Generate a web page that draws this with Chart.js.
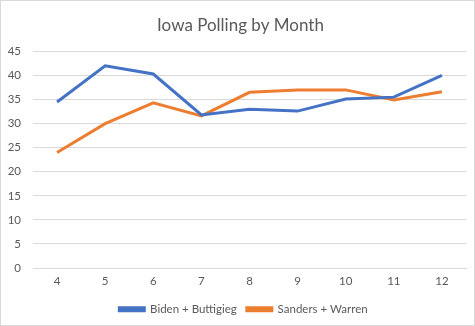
<!DOCTYPE html>
<html lang="en">
<head>
    <meta charset="UTF-8">
    <title>Iowa Polling by Month</title>
    <script src="https://cdn.jsdelivr.net/npm/chart.js"></script>
    <style>
        body {
            margin: 0;
            padding: 0;
            background-color: #ffffff;
        }

        /* Marco gris claro alrededor del gráfico */
        .marco {
            position: absolute;
            left: 0;
            top: 0;
            width: 473px;
            height: 324px;
            border: 1px solid #d9d9d9;
        }

        canvas {
            display: block;
        }
    </style>
</head>
<body>
    <div class="marco">
        <canvas id="pollChart" width="473" height="324"></canvas>
    </div>

    <script>
        // Meses (eje x)
        const meses = ['4', '5', '6', '7', '8', '9', '10', '11', '12'];

        // Porcentaje combinado por mes
        const bidenButtigieg = [34.5, 42, 40.3, 31.8, 33, 32.6, 35.1, 35.5, 40];
        const sandersWarren = [24, 30, 34.3, 31.6, 36.5, 37, 37, 34.9, 36.6];

        const gris = '#595959';
        const fuente = 'Lato, "Open Sans", sans-serif';

        // Centra título y leyenda un poco más a la derecha (sobre el área de datos)
        const centrarCajas = {
            id: 'centrarCajas',
            afterLayout(chart) {
                if (chart.legend) chart.legend.left += 20;
                if (chart.titleBlock) chart.titleBlock.left += 14;
            }
        };

        const ctx = document.getElementById('pollChart').getContext('2d');
        new Chart(ctx, {
            type: 'line',
            data: {
                labels: meses,
                datasets: [{
                    label: 'Biden + Buttigieg',
                    data: bidenButtigieg,
                    borderColor: '#4472C4',
                    backgroundColor: '#4472C4',
                    borderWidth: 3,
                    pointRadius: 0,
                    tension: 0,
                    fill: false
                }, {
                    label: 'Sanders + Warren',
                    data: sandersWarren,
                    borderColor: '#ED7D31',
                    backgroundColor: '#ED7D31',
                    borderWidth: 3,
                    pointRadius: 0,
                    tension: 0,
                    fill: false
                }]
            },
            options: {
                responsive: false,
                animation: false,
                layout: {
                    padding: { left: 0, right: 8, top: 8, bottom: 0 }
                },
                plugins: {
                    title: {
                        display: true,
                        text: 'Iowa Polling by Month',
                        color: gris,
                        font: { family: fuente, size: 17, weight: 'normal' },
                        padding: { top: 6, bottom: 16 }
                    },
                    legend: {
                        position: 'bottom',
                        labels: {
                            color: gris,
                            font: { family: fuente, size: 11.5 },
                            boxWidth: 25,
                            boxHeight: 3,
                            padding: 10
                        }
                    },
                    tooltip: { enabled: false }
                },
                scales: {
                    x: {
                        offset: true,
                        grid: { display: false, drawTicks: false },
                        border: { color: '#d9d9d9' },
                        ticks: {
                            color: gris,
                            font: { family: fuente, size: 11.5 },
                            padding: 6
                        },
                        // altura fija del eje x para acercar la leyenda
                        afterFit: (scale) => { scale.height = 25.5; }
                    },
                    y: {
                        min: 0,
                        max: 45,
                        ticks: {
                            stepSize: 5,
                            color: gris,
                            font: { family: fuente, size: 11.5 },
                            padding: 12
                        },
                        grid: { color: '#d9d9d9', drawTicks: false },
                        border: { display: false },
                        afterFit: (scale) => { scale.width = 32; }
                    }
                }
            },
            plugins: [centrarCajas]
        });
    </script>
</body>
</html>
